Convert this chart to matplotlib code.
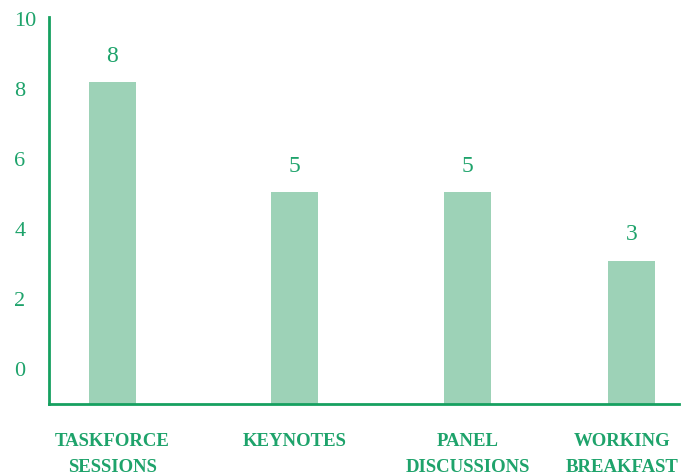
import matplotlib
matplotlib.use("Agg")
import matplotlib.pyplot as plt
import matplotlib.transforms as mtransforms
import numpy as np

# dados
categorias = ["TASKFORCE\nSESSIONS", "KEYNOTES", "PANEL\nDISCUSSIONS", "WORKING\nBREAKFAST"]
valores = [8.2, 5.05, 5.05, 3.1]
rotulos = ["8", "5", "5", "3"]
yticks = [0, 2, 4, 6, 8, 10]

# layout (posicoes das barras, um pouco irregulares como no original)
posicoes = [0.0, 1.052, 2.052, 3.0]

verde = "#16a060"
verde_texto = "#1ea36b"
verde_barra = "#9dd2b7"

plt.rcParams['font.family'] = ['Liberation Serif', 'DejaVu Serif']

fig = plt.figure(figsize=(6.94, 4.75), dpi=100)
ax = fig.add_axes([49/694, 71/475, 630/694, 387/475])

base = -1
alturas = np.array(valores) - base
barras = ax.bar(posicoes, alturas, bottom=base, width=0.272, color=verde_barra)

for b, txt in zip(barras, rotulos):
    ax.annotate(txt, (b.get_x() + b.get_width()/2, b.get_y() + b.get_height()),
                xytext=(0, 18.5), textcoords="offset points",
                ha="center", va="center", fontsize=17, color=verde_texto)

ax.set_xlim(-0.367, 3.275)
ax.set_ylim(-1, 10.06)

ax.set_yticks(yticks)
ax.set_yticklabels([str(t) for t in yticks], fontsize=16, color=verde_texto, ha="left")
ax.tick_params(axis="y", length=0, pad=25)

ax.set_xticks(posicoes)
ax.set_xticklabels(categorias, fontsize=13.5, color=verde_texto, linespacing=1.65,
                   fontweight="bold")
ax.tick_params(axis="x", length=0, pad=21)

# ultimo rotulo um pouco para a esquerda
ultimo = ax.get_xticklabels()[-1]
ultimo.set_transform(ultimo.get_transform() +
                     mtransforms.ScaledTranslation(-0.09, 0, fig.dpi_scale_trans))

for s in ["top", "right"]:
    ax.spines[s].set_visible(False)
for s in ["left", "bottom"]:
    ax.spines[s].set_color(verde)
    ax.spines[s].set_linewidth(2)

plt.savefig("out.png", dpi=100)
